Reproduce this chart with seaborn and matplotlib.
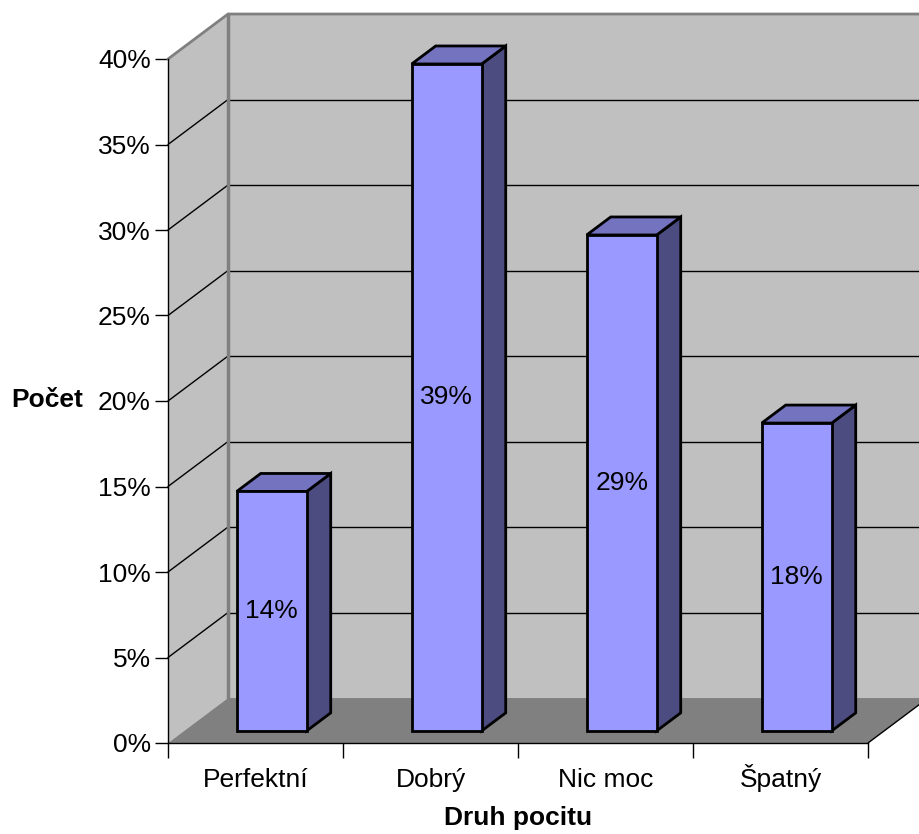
import pandas as pd
import seaborn as sns
import matplotlib.pyplot as plt
from matplotlib.patches import Polygon

categories = ['Perfektní', 'Dobrý', 'Nic moc', 'Špatný']
values = [14, 39, 29, 18]
y_ticks = [0, 5, 10, 15, 20, 25, 30, 35, 40]

FRONT = '#9999FF'
TOP = '#7373BF'
SIDE = '#4C4C80'
WALL = '#C0C0C0'
FLOOR = '#808080'

# depth of the fake 3d box, in data units (x: categories, y: percent)
DX, DY = 0.343, 2.63
BAR_D0, BAR_D1 = 0.27, 0.67

sns.set_theme(style='white')
plt.rcParams['font.family'] = ['Liberation Sans', 'DejaVu Sans']
plt.rcParams.update({'text.color': 'black', 'axes.labelcolor': 'black',
                     'xtick.color': 'black', 'ytick.color': 'black'})

fig = plt.figure(figsize=(9.19, 8.34), dpi=100)
ax = fig.add_axes([168 / 919, 91 / 834, 700 / 919, 684 / 834])
ax.set_facecolor('none')

df = pd.DataFrame({'pocit': categories, 'podil': values})
sns.barplot(data=df, x='pocit', y='podil', color=FRONT, saturation=1,
            width=0.4, edgecolor='black', linewidth=2, ax=ax, zorder=5)
bars = list(ax.patches)

x0, x1, y0, y1 = -0.5, 3.5, 0, 40
ax.set_xlim(x0, x1)
ax.set_ylim(y0, y1)

# walls and floor
walls = [
    ([(x0, y0), (x0, y1), (x0 + DX, y1 + DY), (x0 + DX, y0 + DY)], WALL, 0),
    ([(x0 + DX, y0 + DY), (x1 + DX, y0 + DY), (x1 + DX, y1 + DY), (x0 + DX, y1 + DY)], WALL, 0),
    ([(x0, y0), (x1, y0), (x1 + DX, y0 + DY), (x0 + DX, y0 + DY)], FLOOR, 1),
]
for pts, col, z in walls:
    ax.add_patch(Polygon(pts, closed=True, fc=col, ec='none', zorder=z, clip_on=False))

for v in y_ticks[1:-1]:
    ax.plot([x0 + DX, x1 + DX], [v + DY, v + DY], color='black', lw=1, zorder=1.5, clip_on=False)
    ax.plot([x0, x0 + DX], [v, v + DY], color='black', lw=1, zorder=1.5, clip_on=False)

ax.plot([x0, x0 + DX, x1 + DX], [y1, y1 + DY, y1 + DY], color='#808080', lw=2, zorder=1.6, clip_on=False)
ax.plot([x0 + DX, x0 + DX], [y0 + DY, y1 + DY], color='#808080', lw=2.5, zorder=1.6, clip_on=False)
ax.plot([x1, x1 + DX], [y0, y0 + DY], color='black', lw=1, zorder=1.6, clip_on=False)

# bars: move front face into the depth, add top and side faces
bd = BAR_D1 - BAR_D0
ox, oy = BAR_D0 * DX, BAR_D0 * DY
for p, v in zip(bars, values):
    x, w, h = p.get_x(), p.get_width(), p.get_height()
    p.set_x(x + ox)
    p.set_y(oy)
    p.set_clip_on(False)
    xl, xr, yt = x + ox, x + ox + w, h + oy
    top = [(xl, yt), (xr, yt), (xr + bd * DX, yt + bd * DY), (xl + bd * DX, yt + bd * DY)]
    side = [(xr, oy), (xr + bd * DX, oy + bd * DY), (xr + bd * DX, yt + bd * DY), (xr, yt)]
    ax.add_patch(Polygon(side, closed=True, fc=SIDE, ec='black', lw=2, zorder=4, clip_on=False))
    ax.add_patch(Polygon(top, closed=True, fc=TOP, ec='black', lw=2, zorder=4, clip_on=False))
    ax.text(xl + w / 2, oy + h / 2, f'{v}%', ha='center', va='center', fontsize=19, zorder=10)

# axes
for s in ['top', 'right']:
    ax.spines[s].set_visible(False)
for s in ['left', 'bottom']:
    ax.spines[s].set_color('black')
    ax.spines[s].set_linewidth(1)

ax.set_yticks(y_ticks)
ax.set_yticklabels([f'{t}%' for t in y_ticks])
ax.tick_params(axis='y', left=True, length=9.5, width=1, pad=3, labelsize=19)

ax.set_xticks(range(len(categories)))
ax.set_xticklabels(categories)
ax.set_xticks([i - 0.5 for i in range(len(categories) + 1)], minor=True)
ax.tick_params(axis='x', which='major', bottom=True, length=0, pad=32, labelsize=19)
ax.tick_params(axis='x', which='minor', bottom=True, length=11, width=1)
for lbl in ax.get_xticklabels():
    lbl.set_verticalalignment('baseline')

ax.set_ylabel('Počet', rotation=0, fontsize=19, fontweight='bold', ha='center', va='center')
ax.yaxis.set_label_coords(-0.173, 0.5015)
ax.set_xlabel('Druh pocitu', fontsize=19, fontweight='bold', va='center')
ax.xaxis.set_label_coords(0.5, -0.110)

fig.savefig('out.png', dpi=100, facecolor='white')
